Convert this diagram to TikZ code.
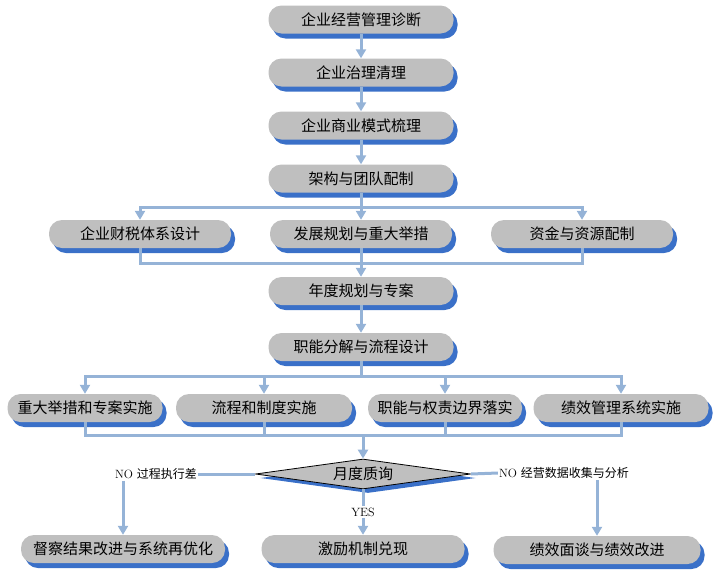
\documentclass[tikz,border=0pt]{standalone}
\usepackage{fontspec}
\newfontfamily\cjk{Noto Sans CJK SC}
\usetikzlibrary{arrows.meta,shapes.geometric,shadows,positioning}
\definecolor{boxgray}{RGB}{191,191,191}
\definecolor{shadeblue}{RGB}{58,112,200}
\definecolor{linkblue}{RGB}{149,179,215}

\begin{document}
\begin{tikzpicture}[x=1pt, y=-1pt, node distance=53pt, >={Triangle[width=10pt,length=9pt]}, font=\cjk\fontsize{15}{18}\selectfont]
            \tikzstyle{box}=[rectangle, rounded corners=13pt, fill=boxgray, minimum width=185pt, minimum height=28pt, inner sep=0pt,
                drop shadow={shadow xshift=4pt, shadow yshift=-5pt, fill=shadeblue, opacity=1}]
            \tikzstyle{link}=[draw=linkblue, line width=3pt]
            \tikzstyle{tag}=[font=\fontsize{12}{14}\selectfont, inner sep=1pt]

            \useasboundingbox (0,0) rectangle (723,576);

            % Blocchi
            \node[box] (diag) at (361,19.5) {企业经营管理诊断};
            \node[box, below of=diag] (gov) {企业治理清理};
            \node[box, below of=gov] (model) {企业商业模式梳理};
            \node[box, below of=model] (team) {架构与团队配制};
            \node[box, minimum width=182pt] (tax) at (140,234) {企业财税体系设计};
            \node[box, minimum width=182pt] (plan) at (361,234) {发展规划与重大举措};
            \node[box, minimum width=182pt] (fund) at (582,234) {资金与资源配制};
            \node[box] (year) at (361,291) {年度规划与专案};
            \node[box, below of=year, node distance=56pt] (split) {职能分解与流程设计};
            \node[box, minimum width=155pt] (proj) at (85,408) {重大举措和专案实施};
            \node[box, minimum width=176pt] (flow) at (264,408) {流程和制度实施};
            \node[box, minimum width=154pt] (duty) at (445,408) {职能与权责边界落实};
            \node[box, minimum width=175pt] (perf) at (621,408) {绩效管理系统实施};
            \node[diamond, aspect=7, fill=boxgray, draw=black, line width=0.8pt, minimum width=215pt, minimum height=30pt, inner sep=0pt,
                drop shadow={shadow xshift=5pt, shadow yshift=-4pt, fill=shadeblue, opacity=1}] (check) at (363,474) {月度质询};
            \node[box, minimum width=204pt] (fix) at (123,549) {督察结果改进与系统再优化};
            \node[box, minimum width=203pt] (reward) at (363,549) {激励机制兑现};
            \node[box, minimum width=207pt] (talk) at (597,550) {绩效面谈与绩效改进};

            % Etichette
            \node[tag] (noleft) at (156,474) {NO {\cjk 过程执行差}};
            \node[tag] (noright) at (564,473) {NO {\cjk 经营数据收集与分析}};
            \node[tag] (yes) at (363,512) {YES};

            % Frecce
            \draw[link,->] (diag) -- (gov);
            \draw[link,->] (gov) -- (model);
            \draw[link,->] (model) -- (team);
            \coordinate (fork1) at (361,207);
            \draw[link] (team) -- (fork1);
            \draw[link,->] (fork1) -- (plan);
            \draw[link,->] (fork1) -| (tax);
            \draw[link,->] (fork1) -| (fund);
            \coordinate (join1) at (361,263);
            \draw[link] (tax) |- (join1);
            \draw[link] (fund) |- (join1);
            \draw[link,->] (plan) -- (year);
            \draw[link,->] (year) -- (split);
            \coordinate (fork2) at (361,376);
            \draw[link] (split) -- (fork2);
            \draw[link,->] (fork2) -| (proj);
            \draw[link,->] (fork2) -| (flow);
            \draw[link,->] (fork2) -| (duty);
            \draw[link,->] (fork2) -| (perf);
            \coordinate (join2) at (363,435);
            \draw[link] (proj) |- (join2);
            \draw[link] (flow) |- (join2);
            \draw[link] (duty) |- (join2);
            \draw[link] (perf) |- (join2);
            \draw[link,->] (join2) -- (check);
            \draw[link] (check.west) -- (noleft.east);
            \draw[link,->] (noleft.south -| fix.north) -- (fix);
            \draw[link] (check.east) -- (noright.west);
            \draw[link,->] (noright.south -| talk.north) -- (talk);
            \draw[link] (check.south) -- (yes);
            \draw[link,->] (yes) -- (reward);
        \end{tikzpicture}
\end{document}
